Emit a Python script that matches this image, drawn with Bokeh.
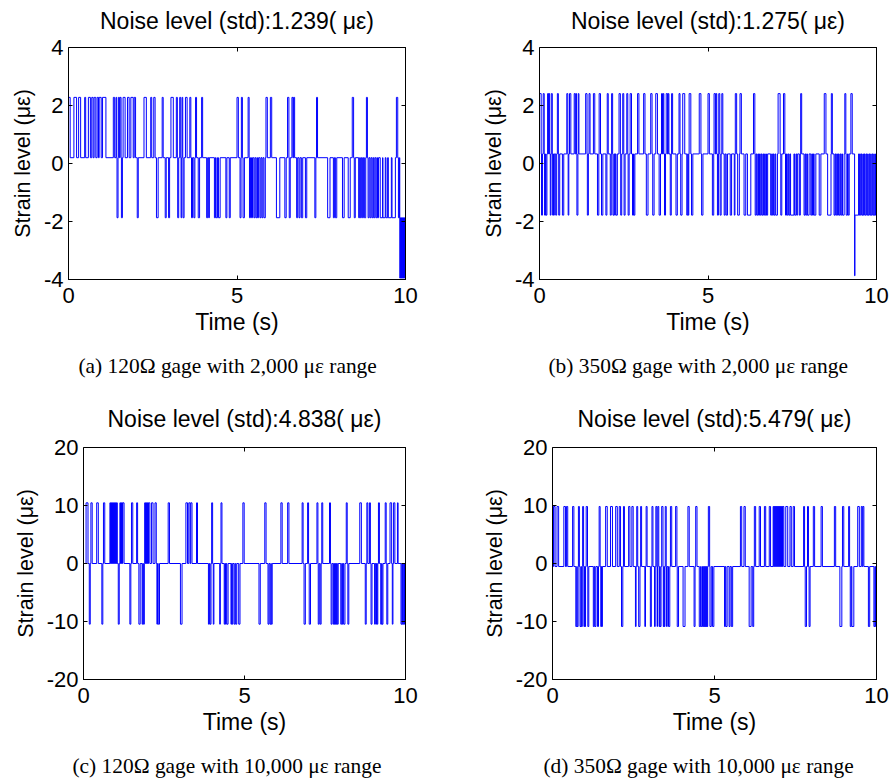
from bokeh.plotting import figure
from bokeh.layouts import column, row
from bokeh.models import LinearAxis, Range1d, FixedTicker, Title, CustomLabelingPolicy
from bokeh.embed import file_html
from bokeh.resources import INLINE

# ---------------- data ----------------
titles = ["Noise level (std):1.239( \u03bc\u03b5)", "Noise level (std):1.275( \u03bc\u03b5)",
          "Noise level (std):4.838( \u03bc\u03b5)", "Noise level (std):5.479( \u03bc\u03b5)"]
captions = ["(a) 120\u03a9 gage with 2,000 \u03bc\u03b5 range", "(b) 350\u03a9 gage with 2,000 \u03bc\u03b5 range",
            "(c) 120\u03a9 gage with 10,000 \u03bc\u03b5 range", "(d) 350\u03a9 gage with 10,000 \u03bc\u03b5 range"]
x_ticks = [0, 5, 10]
y_ticks_small = [-4, -2, 0, 2, 4]
y_ticks_large = [-20, -10, 0, 10, 20]

# quantisation levels of each record: B = resting level, H = one step up, L = one step down, M = two down
levels_a = {"B": 0.2, "H": 2.28, "L": -1.87, "M": -3.95}
levels_b = {"B": 0.33, "H": 2.41, "L": -1.78, "M": -3.87}
levels_c = {"B": 0.0, "H": 10.46, "L": -10.46}
levels_d = {"B": -0.52, "H": 9.83, "L": -10.86}

# excursions away from the resting level: (start s, end s, level)
pulses_a = [
    (0.00, 0.05, "H"), (0.16, 0.24, "H"), (0.30, 0.36, "H"), (0.48, 0.51, "H"), (0.59, 0.65, "H"),
    (0.69, 0.73, "H"), (0.76, 0.81, "H"), (0.85, 0.89, "H"), (0.91, 0.97, "H"), (1.01, 1.11, "H"),
    (1.33, 1.37, "H"), (1.41, 1.43, "H"), (1.44, 1.47, "L"), (1.48, 1.51, "H"), (1.53, 1.56, "H"),
    (1.57, 1.60, "L"), (1.62, 1.68, "H"), (1.75, 1.80, "H"), (1.85, 1.92, "H"), (1.95, 1.99, "H"),
    (2.04, 2.07, "L"), (2.24, 2.31, "H"), (2.44, 2.47, "H"), (2.53, 2.57, "H"), (2.61, 2.66, "L"),
    (2.78, 2.81, "H"), (2.87, 2.90, "L"), (2.97, 3.00, "L"), (3.04, 3.11, "H"), (3.20, 3.23, "H"),
    (3.24, 3.27, "L"), (3.30, 3.33, "H"), (3.34, 3.36, "L"), (3.37, 3.39, "H"), (3.40, 3.43, "L"),
    (3.47, 3.52, "H"), (3.60, 3.63, "H"), (3.65, 3.68, "L"), (3.72, 3.75, "L"), (3.77, 3.80, "H"),
    (3.85, 3.89, "L"), (3.95, 3.98, "H"), (4.10, 4.13, "L"), (4.16, 4.18, "L"), (4.33, 4.36, "L"),
    (4.38, 4.42, "L"), (4.45, 4.50, "L"), (4.67, 4.70, "L"), (4.77, 4.80, "L"), (5.00, 5.04, "H"),
    (5.09, 5.12, "L"), (5.13, 5.16, "H"), (5.18, 5.22, "L"), (5.33, 5.36, "H"), (5.37, 5.40, "L"),
    (5.43, 5.46, "L"), (5.50, 5.53, "L"), (5.56, 5.59, "L"), (5.61, 5.64, "L"), (5.68, 5.71, "L"),
    (5.74, 5.77, "L"), (5.80, 5.84, "L"), (5.86, 5.90, "H"), (5.99, 6.03, "H"), (6.17, 6.27, "L"),
    (6.42, 6.46, "L"), (6.50, 6.54, "H"), (6.55, 6.58, "L"), (6.63, 6.66, "H"), (6.68, 6.71, "H"),
    (6.77, 6.80, "L"), (6.84, 6.87, "L"), (6.91, 6.95, "L"), (7.03, 7.07, "L"), (7.31, 7.34, "L"),
    (7.36, 7.39, "H"), (7.69, 7.76, "L"), (7.86, 7.89, "L"), (7.92, 7.96, "L"), (8.13, 8.18, "L"),
    (8.30, 8.36, "L"), (8.42, 8.46, "H"), (8.48, 8.51, "L"), (8.61, 8.64, "L"), (8.66, 8.69, "L"),
    (8.72, 8.75, "L"), (8.78, 8.82, "L"), (8.84, 8.87, "H"), (8.89, 8.92, "L"), (8.95, 8.98, "L"),
    (9.01, 9.04, "L"), (9.06, 9.09, "L"), (9.12, 9.15, "L"), (9.17, 9.20, "L"), (9.25, 9.32, "L"),
    (9.33, 9.40, "L"), (9.42, 9.47, "L"), (9.49, 9.58, "L"), (9.60, 9.70, "L"), (9.73, 9.77, "H"),
    (9.79, 9.82, "L"), (9.83, 9.85, "M"), (9.85, 9.86, "L"), (9.86, 9.88, "M"), (9.88, 9.89, "L"),
    (9.89, 9.91, "M"), (9.91, 9.92, "L"), (9.92, 9.94, "M"), (9.94, 9.95, "L"), (9.95, 9.97, "M"),
    (9.97, 9.98, "L"), (9.98, 10.0, "M"),
]

pulses_b = [
    (0.00, 0.05, "H"), (0.06, 0.09, "L"), (0.11, 0.14, "H"), (0.15, 0.18, "L"), (0.19, 0.22, "L"),
    (0.24, 0.27, "H"), (0.28, 0.30, "H"), (0.32, 0.34, "L"), (0.35, 0.38, "H"), (0.39, 0.41, "L"),
    (0.42, 0.44, "L"), (0.48, 0.51, "L"), (0.53, 0.56, "H"), (0.57, 0.60, "L"), (0.68, 0.72, "L"),
    (0.81, 0.84, "H"), (0.85, 0.87, "L"), (0.89, 0.93, "H"), (1.03, 1.06, "H"), (1.08, 1.10, "H"),
    (1.11, 1.14, "L"), (1.15, 1.17, "H"), (1.37, 1.41, "H"), (1.42, 1.45, "L"), (1.47, 1.50, "H"),
    (1.60, 1.64, "H"), (1.72, 1.76, "L"), (1.77, 1.81, "H"), (1.84, 1.88, "L"), (1.97, 2.00, "L"),
    (2.01, 2.04, "H"), (2.10, 2.13, "L"), (2.14, 2.17, "H"), (2.18, 2.21, "L"), (2.23, 2.25, "L"),
    (2.27, 2.31, "L"), (2.36, 2.40, "H"), (2.41, 2.44, "L"), (2.47, 2.50, "H"), (2.51, 2.54, "L"),
    (2.59, 2.62, "H"), (2.63, 2.66, "L"), (2.69, 2.73, "H"), (2.76, 2.79, "L"), (2.80, 2.83, "L"),
    (2.91, 2.95, "H"), (3.09, 3.13, "H"), (3.17, 3.22, "L"), (3.30, 3.34, "H"), (3.36, 3.40, "L"),
    (3.45, 3.50, "H"), (3.55, 3.59, "L"), (3.62, 3.65, "H"), (3.67, 3.69, "H"), (3.71, 3.74, "L"),
    (3.76, 3.80, "H"), (3.82, 3.84, "H"), (3.88, 3.91, "L"), (3.92, 3.95, "H"), (4.05, 4.09, "L"),
    (4.14, 4.17, "H"), (4.19, 4.23, "L"), (4.25, 4.31, "H"), (4.37, 4.40, "L"), (4.41, 4.43, "L"),
    (4.44, 4.49, "H"), (4.51, 4.55, "L"), (4.74, 4.79, "H"), (4.81, 4.85, "L"), (5.00, 5.04, "H"),
    (5.13, 5.17, "L"), (5.18, 5.22, "H"), (5.24, 5.26, "H"), (5.28, 5.31, "L"), (5.32, 5.35, "H"),
    (5.36, 5.39, "L"), (5.41, 5.44, "H"), (5.48, 5.51, "L"), (5.54, 5.58, "L"), (5.66, 5.70, "L"),
    (5.78, 5.80, "L"), (5.81, 5.85, "H"), (5.88, 5.93, "L"), (5.95, 5.99, "H"), (6.07, 6.12, "L"),
    (6.17, 6.27, "L"), (6.35, 6.39, "H"), (6.40, 6.43, "L"), (6.45, 6.48, "L"), (6.50, 6.53, "L"),
    (6.55, 6.58, "L"), (6.60, 6.63, "L"), (6.65, 6.68, "L"), (6.70, 6.73, "L"), (6.74, 6.77, "L"),
    (6.86, 6.89, "L"), (6.91, 6.94, "L"), (6.96, 6.99, "L"), (7.01, 7.06, "L"), (7.08, 7.14, "H"),
    (7.16, 7.19, "L"), (7.24, 7.28, "H"), (7.30, 7.33, "L"), (7.35, 7.38, "L"), (7.40, 7.43, "L"),
    (7.45, 7.55, "L"), (7.57, 7.61, "L"), (7.63, 7.66, "L"), (7.71, 7.74, "L"), (7.75, 7.78, "H"),
    (7.85, 7.88, "L"), (7.90, 7.93, "L"), (7.95, 8.00, "L"), (8.05, 8.08, "L"), (8.10, 8.13, "L"),
    (8.15, 8.20, "L"), (8.30, 8.35, "L"), (8.45, 8.50, "H"), (8.55, 8.65, "L"), (8.66, 8.69, "H"),
    (8.74, 8.77, "L"), (8.79, 8.82, "L"), (8.84, 8.87, "L"), (8.89, 8.92, "L"), (8.94, 8.97, "L"),
    (8.99, 9.04, "L"), (9.06, 9.09, "H"), (9.10, 9.14, "L"), (9.16, 9.19, "L"), (9.24, 9.28, "H"),
    (9.35, 9.36, "M"), (9.36, 9.47, "L"), (9.48, 9.50, "L"), (9.52, 9.55, "L"), (9.57, 9.60, "L"),
    (9.61, 9.64, "L"), (9.66, 9.69, "L"), (9.71, 9.74, "L"), (9.75, 9.78, "L"), (9.80, 9.83, "L"),
    (9.84, 9.87, "L"), (9.89, 9.92, "L"), (9.93, 9.96, "L"), (9.97, 10.0, "L"),
]

pulses_c = [
    (0.08, 0.14, "H"), (0.18, 0.21, "L"), (0.23, 0.27, "H"), (0.41, 0.46, "H"), (0.57, 0.60, "L"),
    (0.62, 0.66, "H"), (0.82, 0.84, "H"), (0.85, 0.87, "H"), (0.88, 0.90, "H"), (0.91, 0.93, "H"),
    (0.94, 0.96, "H"), (0.97, 0.99, "H"), (1.00, 1.02, "H"), (1.03, 1.05, "H"), (1.08, 1.11, "L"),
    (1.13, 1.15, "H"), (1.16, 1.18, "H"), (1.19, 1.21, "H"), (1.22, 1.26, "H"), (1.44, 1.47, "L"),
    (1.49, 1.53, "H"), (1.65, 1.68, "H"), (1.72, 1.76, "L"), (1.82, 1.84, "L"), (1.86, 1.89, "L"),
    (1.90, 1.92, "H"), (1.93, 1.95, "H"), (1.96, 1.98, "H"), (1.99, 2.01, "H"), (2.02, 2.06, "H"),
    (2.11, 2.16, "H"), (2.22, 2.26, "H"), (2.28, 2.30, "L"), (2.32, 2.36, "L"), (2.63, 2.67, "H"),
    (3.01, 3.06, "L"), (3.18, 3.23, "H"), (3.27, 3.31, "H"), (3.33, 3.37, "H"), (3.51, 3.54, "H"),
    (3.88, 3.91, "L"), (3.93, 3.96, "L"), (3.98, 4.01, "H"), (4.03, 4.05, "L"), (4.23, 4.25, "L"),
    (4.27, 4.30, "H"), (4.37, 4.39, "L"), (4.41, 4.43, "L"), (4.45, 4.49, "L"), (4.58, 4.60, "L"),
    (4.62, 4.64, "L"), (4.68, 4.71, "L"), (4.73, 4.76, "L"), (4.82, 4.86, "L"), (4.95, 4.99, "H"),
    (5.45, 5.49, "L"), (5.63, 5.67, "H"), (5.73, 5.76, "L"), (5.79, 5.82, "L"), (5.83, 5.86, "L"),
    (6.13, 6.17, "H"), (6.34, 6.38, "H"), (6.79, 6.82, "H"), (6.85, 6.89, "L"), (6.96, 6.99, "H"),
    (7.01, 7.05, "L"), (7.25, 7.28, "H"), (7.29, 7.32, "L"), (7.35, 7.38, "L"), (7.40, 7.43, "H"),
    (7.64, 7.67, "H"), (7.69, 7.72, "L"), (7.76, 7.78, "L"), (7.79, 7.81, "L"), (7.82, 7.84, "L"),
    (7.85, 7.87, "L"), (7.88, 7.91, "L"), (7.99, 8.02, "L"), (8.04, 8.06, "L"), (8.08, 8.12, "L"),
    (8.16, 8.19, "H"), (8.21, 8.24, "L"), (8.58, 8.63, "H"), (8.75, 8.78, "L"), (8.80, 8.83, "H"),
    (8.88, 8.91, "H"), (8.93, 8.96, "L"), (9.04, 9.06, "L"), (9.08, 9.10, "L"), (9.12, 9.14, "L"),
    (9.16, 9.19, "H"), (9.23, 9.26, "L"), (9.27, 9.30, "L"), (9.37, 9.40, "H"), (9.42, 9.45, "L"),
    (9.52, 9.57, "H"), (9.59, 9.61, "L"), (9.63, 9.67, "H"), (9.75, 9.77, "H"), (9.86, 9.89, "L"),
    (9.90, 9.92, "L"), (9.93, 9.96, "L"), (9.97, 10.0, "L"),
]

pulses_d = [
    (0.00, 0.03, "H"), (0.04, 0.08, "H"), (0.14, 0.19, "H"), (0.35, 0.40, "H"), (0.43, 0.47, "H"),
    (0.62, 0.66, "H"), (0.72, 0.75, "L"), (0.76, 0.79, "L"), (0.80, 0.83, "H"), (0.85, 0.88, "L"),
    (0.89, 0.92, "L"), (0.93, 0.96, "H"), (0.97, 0.99, "L"), (1.00, 1.02, "L"), (1.04, 1.08, "H"),
    (1.09, 1.12, "L"), (1.26, 1.29, "L"), (1.31, 1.34, "L"), (1.39, 1.42, "L"), (1.44, 1.47, "H"),
    (1.49, 1.51, "L"), (1.52, 1.54, "L"), (1.64, 1.69, "H"), (1.79, 1.85, "H"), (1.95, 2.00, "H"),
    (2.06, 2.10, "H"), (2.13, 2.17, "L"), (2.19, 2.22, "H"), (2.35, 2.39, "H"), (2.45, 2.49, "H"),
    (2.56, 2.58, "L"), (2.60, 2.63, "H"), (2.66, 2.70, "L"), (2.72, 2.75, "H"), (2.85, 2.87, "L"),
    (2.89, 2.92, "H"), (3.02, 3.05, "L"), (3.07, 3.10, "H"), (3.15, 3.17, "L"), (3.19, 3.22, "H"),
    (3.23, 3.24, "L"), (3.25, 3.28, "H"), (3.29, 3.31, "L"), (3.32, 3.35, "L"), (3.37, 3.41, "H"),
    (3.42, 3.44, "L"), (3.45, 3.47, "L"), (3.48, 3.51, "H"), (3.52, 3.54, "L"), (3.58, 3.62, "L"),
    (3.64, 3.68, "H"), (3.80, 3.84, "H"), (3.85, 3.89, "L"), (4.03, 4.09, "L"), (4.18, 4.22, "H"),
    (4.37, 4.40, "L"), (4.42, 4.46, "H"), (4.53, 4.57, "L"), (4.59, 4.63, "L"), (4.65, 4.67, "L"),
    (4.68, 4.70, "L"), (4.71, 4.73, "L"), (4.74, 4.76, "L"), (4.77, 4.79, "L"), (4.81, 4.85, "H"),
    (4.86, 4.90, "L"), (4.94, 4.98, "L"), (5.31, 5.33, "L"), (5.35, 5.39, "L"), (5.45, 5.48, "L"),
    (5.52, 5.56, "L"), (5.80, 5.84, "H"), (5.91, 5.95, "H"), (6.07, 6.13, "L"), (6.18, 6.21, "L"),
    (6.23, 6.27, "H"), (6.38, 6.42, "H"), (6.54, 6.58, "H"), (6.69, 6.73, "H"), (6.81, 6.83, "H"),
    (6.84, 6.86, "H"), (6.87, 6.89, "H"), (6.90, 6.92, "H"), (6.93, 6.95, "H"), (6.96, 6.98, "H"),
    (6.99, 7.01, "H"), (7.02, 7.04, "H"), (7.05, 7.07, "H"), (7.08, 7.10, "H"), (7.11, 7.14, "H"),
    (7.20, 7.26, "H"), (7.33, 7.37, "H"), (7.43, 7.47, "H"), (7.75, 7.78, "H"), (7.80, 7.84, "L"),
    (7.87, 7.90, "H"), (7.92, 7.95, "L"), (8.05, 8.09, "H"), (8.29, 8.33, "H"), (8.70, 8.74, "H"),
    (8.87, 8.93, "L"), (8.95, 8.99, "H"), (9.14, 9.17, "H"), (9.19, 9.22, "L"), (9.24, 9.30, "L"),
    (9.42, 9.47, "H"), (9.53, 9.56, "H"), (9.58, 9.61, "H"), (9.75, 9.79, "L"), (9.92, 9.95, "L"),
    (9.97, 10.0, "L"),
]


def step_series(pulses, levels, t_end=10.0):
    """Turn the list of excursions into change points for a step line."""
    base = levels["B"]
    xs, ys = [0.0], [base]
    prev_end = 0.0
    for s, e, code in sorted(pulses):
        lev = levels[code]
        s = max(s, prev_end)
        if s > prev_end + 1e-9:
            xs.append(prev_end)
            ys.append(base)
        if s <= 0.0:
            ys[0] = lev
        else:
            xs.append(s)
            ys.append(lev)
        prev_end = e
    if prev_end < t_end:
        xs.append(prev_end)
        ys.append(base)
    xs.append(t_end)
    ys.append(ys[-1])
    return xs, ys


SANS = "Liberation Sans"
SERIF = "Liberation Serif"


def hide_labels(ax):
    ax.major_label_policy = CustomLabelingPolicy(code="return new Set()")
    ax.major_label_text_font_size = "0px"
    ax.major_label_standoff = 0


def style_axis(ax, show_labels=True):
    ax.axis_line_color = "black"
    ax.axis_line_width = 1
    ax.major_tick_in = 4
    ax.major_tick_out = 0
    ax.minor_tick_line_color = None
    ax.major_tick_line_color = "black"
    ax.major_label_text_font = SANS
    ax.major_label_text_color = "black"
    if show_labels:
        ax.major_label_text_font_size = "22px"
    else:
        hide_labels(ax)


def spacer(size, tick):
    """A blank axis (white tick on white paper) that only reserves `size` pixels in a side panel."""
    ax = LinearAxis(ticker=FixedTicker(ticks=[tick]))
    ax.axis_line_color = None
    ax.major_tick_line_color = "white"
    ax.minor_tick_line_color = None
    ax.major_tick_in = 0
    ax.major_tick_out = size
    hide_labels(ax)
    return ax


def panel(pulses, levels, yr, yticks, title, caption, w, h, bl, br, bt, bb, cap_off, title_gap, cap_gap):
    p = figure(width=w, height=h, x_range=Range1d(0, 10), y_range=Range1d(yr[0], yr[1]),
               output_backend="svg", toolbar_location=None,
               min_border_left=bl, min_border_right=br, min_border_top=bt, min_border_bottom=bb,
               background_fill_color="white", border_fill_color="white")
    p.xgrid.visible = False
    p.ygrid.visible = False
    p.outline_line_color = "black"
    p.outline_line_width = 1

    p.title.text = title
    p.title.align = "center"
    p.title.text_font = SANS
    p.title.text_font_size = "23px"
    p.title.text_font_style = "normal"
    p.title.text_color = "black"
    p.title.standoff = 4

    xa = p.xaxis[0]
    ya = p.yaxis[0]
    xa.ticker = FixedTicker(ticks=x_ticks)
    ya.ticker = FixedTicker(ticks=yticks)
    style_axis(xa)
    style_axis(ya)
    ya.major_label_overrides = {t: str(t) for t in yticks if t < 0}
    xa.axis_label = "Time (s)"
    ya.axis_label = "Strain level (\u03bc\u03b5)"
    for ax in (xa, ya):
        ax.axis_label_text_font = SANS
        ax.axis_label_text_font_style = "normal"
        ax.axis_label_text_color = "black"
    xa.axis_label_text_font_size = "23px"
    ya.axis_label_text_font_size = "21.5px"
    xa.axis_label_standoff = 3
    ya.axis_label_standoff = 6
    xa.major_label_standoff = 8
    ya.major_label_standoff = 5

    top = LinearAxis(ticker=FixedTicker(ticks=x_ticks))
    right = LinearAxis(ticker=FixedTicker(ticks=yticks))
    style_axis(top, False)
    style_axis(right, False)
    p.add_layout(top, "above")
    p.add_layout(spacer(title_gap, 0.0), "above")
    p.add_layout(right, "right")

    xs, ys = step_series(pulses, levels)
    p.step(xs, ys, mode="after", line_color="#0000ff", line_width=1)

    p.add_layout(spacer(cap_gap, 0.0), "below")
    cap = Title(text=caption, align="left", offset=cap_off, standoff=4,
                text_font=SERIF, text_font_size="21.4px", text_font_style="normal", text_color="black")
    p.add_layout(cap, "below")
    return p


pa = panel(pulses_a, levels_a, (-4, 4), y_ticks_small, titles[0], captions[0],
           446, 390, 68, 41, 47, 111, 10, 12, 12)
pb = panel(pulses_b, levels_b, (-4, 4), y_ticks_small, titles[1], captions[1],
           446, 390, 93, 16, 47, 111, 9, 12, 12)
pc = panel(pulses_c, levels_c, (-20, 20), y_ticks_large, titles[2], captions[2],
           446, 390, 83, 41, 57, 101, -11, 14, 12)
pd = panel(pulses_d, levels_d, (-20, 20), y_ticks_large, titles[3], captions[3],
           446, 390, 106, 16, 57, 101, -9, 14, 12)

layout = column(row(pa, pb), row(pc, pd))
open("out.html", "w").write(file_html(layout, INLINE))
